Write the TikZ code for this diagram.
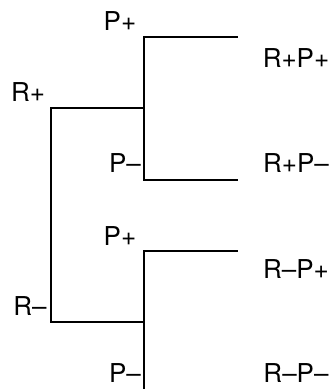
\documentclass[tikz,border=0pt]{standalone}
\usepackage{fontspec}
\setmainfont{TeX Gyre Heros}
\begin{document}
\begin{tikzpicture}[x=1pt,y=-1pt,
  branch/.style={line width=1.4pt, line cap=rect},
  lbl/.style={font=\fontsize{26}{26}\selectfont, inner sep=0pt, anchor=center}]
\useasboundingbox (0,0) rectangle (333,389);
\coordinate (rp) at (51,108);
\coordinate (rm) at (51,322);
\coordinate (a) at (144,108);
\coordinate (b) at (144,322);
\coordinate (ap) at (144,37);
\coordinate (ape) at (237,37);
\coordinate (am) at (144,180);
\coordinate (ame) at (237,180);
\coordinate (bp) at (144,251);
\coordinate (bpe) at (237,251);
\coordinate (bm) at (144,389);
\draw[branch] (rp) -- (rm);
\draw[branch] (rp) -- (a);
\draw[branch] (rm) -- (b);
\draw[branch] (ape) -- (ap) -- (am) -- (ame);
\draw[branch] (bpe) -- (bp) -- (bm);
\node[lbl] (lrp) at (28,92) {R+};
\node[lbl] (lrm) at (30,306) {R–};
\node[lbl] (lap) at (120,21) {P+};
\node[lbl] (lam) at (125,163) {P–};
\node[lbl] (lbp) at (120,236) {P+};
\node[lbl] (lbm) at (125,373) {P–};
\node[lbl] (o1) at (296,58) {R+P+};
\node[lbl] (o2) at (296,163) {R+P–};
\node[lbl] (o3) at (296,269) {R–P+};
\node[lbl] (o4) at (296,373) {R–P–};
\end{tikzpicture}
\end{document}
